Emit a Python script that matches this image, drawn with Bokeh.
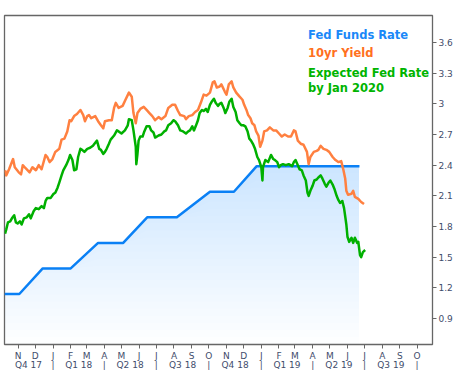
import numpy as np
import pandas as pd
from bokeh.plotting import figure
from bokeh.models import Range1d, LinearAxis, FixedTicker, Label, Arrow
from bokeh.embed import file_html
from bokeh.resources import INLINE

# x values: days since BASE_DATE
BASE_DATE = "2017-11-01"

ffr_days = [-24, 2, 43, 92, 140, 184, 226, 278, 336, 378, 418, 598]
ffr_rate = [1.14, 1.14, 1.39, 1.39, 1.64, 1.64, 1.89, 1.89, 2.14, 2.14, 2.39, 2.39]

y10_days = [-23, -21, -16, -9, -6, 1, 5, 8, 13, 20, 25, 31, 36, 41, 48, 51, 55, 60, 65, 72,
            76, 81, 86, 90, 93, 98, 103, 109, 114, 117, 121, 124, 128, 135, 140, 145, 149, 152,
            159, 164, 168, 171, 176, 183, 188, 194, 199, 202, 206, 209, 214, 220, 225, 230, 235,
            240, 246, 251, 258, 263, 270, 275, 280, 284, 291, 294, 299, 305, 310, 315, 320, 325,
            330, 336, 341, 344, 348, 353, 356, 362, 365, 369, 374, 377, 382, 388, 393, 396, 400,
            403, 407, 410, 414, 417, 421, 424, 428, 431, 436, 441, 447, 452, 457, 462, 467, 473,
            478, 483, 486, 490, 495, 500, 506, 509, 512, 518, 523, 526, 530, 535, 540, 545, 551,
            556, 561, 566, 570, 573, 575, 578, 584, 587, 590, 596, 601, 606]
y10_yield = [2.35, 2.30, 2.36, 2.46, 2.38, 2.33, 2.31, 2.40, 2.37, 2.33, 2.38, 2.35, 2.40, 2.36,
             2.50, 2.48, 2.43, 2.46, 2.53, 2.56, 2.65, 2.66, 2.73, 2.84, 2.83, 2.88, 2.90, 2.94,
             2.89, 2.83, 2.88, 2.89, 2.86, 2.88, 2.83, 2.79, 2.76, 2.83, 2.84, 2.84, 2.96, 3.01,
             2.96, 2.98, 3.04, 3.11, 3.07, 2.91, 2.81, 2.91, 2.95, 2.97, 2.94, 2.91, 2.88, 2.84,
             2.87, 2.85, 2.88, 2.96, 2.99, 2.99, 2.93, 2.89, 2.88, 2.85, 2.88, 2.89, 2.92, 2.94,
             3.01, 3.09, 3.08, 3.11, 3.21, 3.22, 3.16, 3.17, 3.19, 3.12, 3.09, 3.19, 3.22, 3.16,
             3.11, 3.07, 3.04, 2.99, 2.94, 2.89, 2.86, 2.81, 2.79, 2.73, 2.69, 2.58, 2.64, 2.73,
             2.74, 2.77, 2.74, 2.74, 2.71, 2.68, 2.70, 2.68, 2.68, 2.74, 2.73, 2.64, 2.61, 2.60,
             2.53, 2.41, 2.48, 2.53, 2.54, 2.55, 2.59, 2.56, 2.55, 2.53, 2.48, 2.45, 2.43, 2.44,
             2.35, 2.27, 2.15, 2.11, 2.12, 2.15, 2.09, 2.07, 2.04, 2.02]

exp_days = [-23, -21, -18, -14, -11, -7, -4, -1, 3, 6, 10, 15, 19, 22, 27, 31, 36, 41, 45, 48,
            51, 57, 62, 65, 69, 72, 76, 79, 84, 88, 91, 95, 98, 102, 105, 109, 112, 116, 121, 126,
            131, 135, 138, 142, 145, 149, 152, 155, 159, 162, 168, 173, 176, 181, 187, 192, 194,
            199, 202, 206, 207, 209, 211, 214, 218, 221, 225, 230, 233, 237, 240, 246, 251, 256,
            259, 263, 268, 272, 275, 280, 284, 289, 294, 298, 301, 305, 308, 311, 315, 318, 322,
            325, 329, 332, 336, 339, 343, 346, 350, 353, 356, 360, 363, 367, 370, 374, 377, 381,
            384, 388, 391, 395, 398, 402, 405, 408, 412, 415, 419, 422, 426, 428, 429, 433, 438,
            443, 447, 450, 454, 457, 460, 464, 469, 474, 480, 483, 486, 490, 493, 497, 500, 504,
            507, 509, 512, 516, 519, 523, 526, 530, 533, 537, 540, 544, 547, 551, 554, 558, 561,
            564, 568, 571, 573, 575, 577, 580, 584, 587, 590, 594, 596, 599, 601, 604, 608]
exp_rate = [1.73, 1.77, 1.84, 1.85, 1.88, 1.91, 1.84, 1.83, 1.85, 1.82, 1.88, 1.89, 1.92, 1.88,
            1.95, 1.98, 1.97, 2.00, 1.98, 2.05, 2.08, 2.08, 2.12, 2.13, 2.18, 2.23, 2.30, 2.35,
            2.40, 2.45, 2.50, 2.45, 2.35, 2.36, 2.48, 2.56, 2.55, 2.53, 2.56, 2.57, 2.59, 2.62,
            2.64, 2.56, 2.55, 2.51, 2.53, 2.56, 2.61, 2.65, 2.69, 2.74, 2.73, 2.71, 2.74, 2.79,
            2.85, 2.84, 2.74, 2.58, 2.41, 2.51, 2.64, 2.68, 2.68, 2.73, 2.78, 2.78, 2.74, 2.72,
            2.67, 2.69, 2.70, 2.73, 2.74, 2.79, 2.81, 2.84, 2.83, 2.79, 2.74, 2.73, 2.71, 2.73,
            2.74, 2.78, 2.74, 2.78, 2.84, 2.91, 2.94, 2.93, 2.95, 2.92, 2.99, 3.02, 3.05, 3.01,
            2.98, 3.00, 3.01, 2.96, 2.91, 2.96, 3.02, 3.05, 2.97, 2.92, 2.84, 2.81, 2.79, 2.79,
            2.78, 2.73, 2.66, 2.64, 2.60, 2.56, 2.48, 2.45, 2.38, 2.25, 2.38, 2.45, 2.43, 2.50,
            2.46, 2.45, 2.43, 2.38, 2.40, 2.41, 2.40, 2.41, 2.39, 2.43, 2.45, 2.40, 2.36, 2.35,
            2.30, 2.25, 2.13, 2.10, 2.15, 2.20, 2.25, 2.26, 2.28, 2.30, 2.27, 2.22, 2.19, 2.23,
            2.25, 2.21, 2.17, 2.10, 2.06, 2.03, 2.05, 1.98, 1.90, 1.82, 1.70, 1.65, 1.69, 1.64,
            1.69, 1.64, 1.65, 1.52, 1.50, 1.55, 1.57]

y_ticks = [0.9, 1.2, 1.5, 1.8, 2.1, 2.4, 2.7, 3.0, 3.3, 3.6]
left_ticks = [0.821, 1.052, 1.284, 1.512, 1.736, 1.968, 2.199, 2.430, 2.662, 2.889, 3.117, 3.348, 3.579]
legend_items = ["Fed Funds Rate", "10yr Yield", "Expected Fed Rate", "by Jan 2020"]

# ---- derived tick positions -------------------------------------------------
base = pd.Timestamp(BASE_DATE)
months = pd.date_range("2017-11-01", "2019-10-01", freq="MS")
month_ticks = [int((m - base).days) for m in months]
month_labels = {int((m - base).days): m.strftime("%b")[0] for m in months}

X0, X1 = -24, 726
Y0, Y1 = 0.646, 3.864
q_starts = pd.date_range("2017-10-01", "2019-10-01", freq="QS")
q_ticks, q_labels = [], {}
for i in range(len(q_starts) - 1):
    a = max((q_starts[i] - base).days, X0)
    b = (q_starts[i + 1] - base).days
    mid = int(round((a + b) / 2))
    q_ticks += [mid, int(b)]
    q_labels[mid] = "Q%d %s" % (q_starts[i].quarter, q_starts[i].strftime("%y"))
    q_labels[int(b)] = "|"

FONT = "DejaVu Sans"
LABEL_COLOR = "#3f4d6b"
AXIS_GRAY = "#666666"
BLUE, ORANGE, GREEN = "#0a80f5", "#ff8040", "#00b000"

p = figure(width=455, height=372, output_backend="svg", toolbar_location=None,
           x_range=Range1d(X0, X1), y_range=Range1d(Y0, Y1),
           y_axis_location="right",
           min_border_left=4, min_border_right=0, min_border_top=15, min_border_bottom=0,
           background_fill_color="white", border_fill_color="white")
p.xgrid.visible = False
p.ygrid.visible = False
p.outline_line_color = AXIS_GRAY
p.outline_line_width = 1.3

# month axis
xa = p.xaxis[0]
xa.ticker = FixedTicker(ticks=month_ticks)
xa.major_label_overrides = month_labels
xa.axis_line_color = None
xa.major_tick_out = 4
xa.major_tick_in = 0
xa.minor_tick_line_color = None
xa.major_tick_line_color = AXIS_GRAY
xa.major_label_standoff = 2
xa.major_label_text_font = FONT
xa.major_label_text_font_size = "9px"
xa.major_label_text_color = LABEL_COLOR

# quarter axis
qa = LinearAxis(ticker=FixedTicker(ticks=q_ticks), major_label_overrides=q_labels,
                axis_line_color=None, major_tick_line_color=None, minor_tick_line_color=None,
                major_tick_out=0, major_tick_in=0, major_label_standoff=-4,
                major_label_text_font=FONT, major_label_text_font_size="9px",
                major_label_text_color=LABEL_COLOR)
p.add_layout(qa, "below")

# right value axis
ya = p.yaxis[0]
ya.ticker = FixedTicker(ticks=y_ticks)
ya.major_label_overrides = {t: ("%g" % t) for t in y_ticks}
ya.axis_line_color = None
ya.major_tick_out = 4
ya.major_tick_in = 0
ya.minor_tick_line_color = None
ya.major_tick_line_color = AXIS_GRAY
ya.major_label_standoff = 2
ya.major_label_text_font = FONT
ya.major_label_text_font_size = "9px"
ya.major_label_text_color = LABEL_COLOR

# left side: unlabeled tick marks just outside the frame
tick_len = 3 * (X1 - X0) / 433.0
for t in left_ticks:
    p.add_layout(Arrow(x_start=X0 - tick_len, y_start=t, x_end=X0, y_end=t,
                       start=None, end=None, line_color=AXIS_GRAY, line_width=1))

# gradient fill under fed funds (stacked translucent bands)
ffr_arr = np.array(ffr_rate)
for t in np.linspace(Y0, 2.39, 26)[:-1]:
    p.varea(x=ffr_days, y1=np.minimum(t, ffr_arr), y2=ffr_arr,
            fill_color="#1e90ff", fill_alpha=0.0075)

p.line(ffr_days, ffr_rate, line_color=BLUE, line_width=2.5, line_join="round")
p.line(y10_days, y10_yield, line_color=ORANGE, line_width=2.5, line_join="round")
p.line(exp_days, exp_rate, line_color=GREEN, line_width=2.5, line_join="round")

legend_pos = [(508, 3.676), (508, 3.497), (508, 3.306), (508, 3.157)]
legend_colors = ["#1a88f8", "#ff7020", "#00b400", "#00b400"]
for txt, (lx, ly), c in zip(legend_items, legend_pos, legend_colors):
    p.add_layout(Label(x=lx, y=ly, text=txt, text_font=FONT, text_font_style="bold",
                       text_font_size="11.5px", text_color=c, text_baseline="middle"))

open("out.html", "w").write(file_html(p, INLINE))
